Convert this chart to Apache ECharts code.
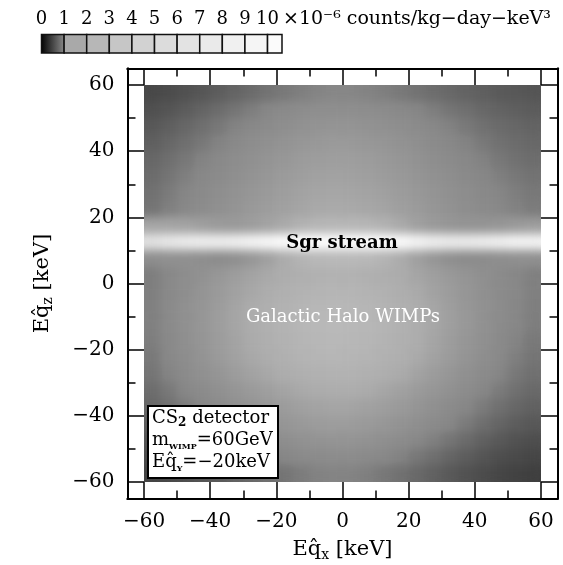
<!DOCTYPE html>
<html><head><meta charset="utf-8">
<script src="https://cdn.jsdelivr.net/npm/echarts@6/dist/echarts.min.js"></script>
<style>
html,body{margin:0;padding:0;background:#fff}
#wrap{position:relative;width:563px;height:565px}
#hm{position:absolute;left:144px;top:85px;width:397px;height:397px;overflow:hidden}
#hmc{width:397px;height:397px;filter:url(#sm)}
#c{position:absolute;left:0;top:0;width:563px;height:565px}
</style>
</head><body>
<svg width="0" height="0" style="position:absolute">
  <filter id="sm" x="0" y="0" width="100%" height="100%" color-interpolation-filters="sRGB">
    <feGaussianBlur stdDeviation="5"/>
    <feComponentTransfer><feFuncA type="linear" slope="0" intercept="1"/></feComponentTransfer>
  </filter>
</svg>
<div id="wrap"><div id="hm"><div id="hmc"></div></div><div id="c"></div></div>
<script>
// ---- data (values in 1e-6 counts/kg-day-keV^3), rows listed from top (Eq_z=57.5) to bottom ----
const xCenters = [-57.5,-52.5,-47.5,-42.5,-37.5,-32.5,-27.5,-22.5,-17.5,-12.5,-7.5,-2.5,2.5,7.5,12.5,17.5,22.5,27.5,32.5,37.5,42.5,47.5,52.5,57.5];
const yCenters = [-57.5,-52.5,-47.5,-42.5,-37.5,-32.5,-27.5,-22.5,-17.5,-12.5,-7.5,-2.5,2.5,7.5,12.5,17.5,22.5,27.5,32.5,37.5,42.5,47.5,52.5,57.5];
const row_p57 = [.53,.56,.60,.64,.69,.74,.79,.85,.90,.94,.98,1.0,.99,.97,.94,.90,.85,.81,.77,.73,.70,.67,.65,.63];
const row_p52 = [.59,.63,.68,.74,.80,.87,.93,1.0,1.07,1.13,1.18,1.2,1.19,1.16,1.11,1.05,.99,.93,.87,.82,.77,.73,.70,.68];
const row_p47 = [.65,.70,.76,.82,.89,.97,1.04,1.12,1.2,1.27,1.32,1.35,1.34,1.30,1.25,1.18,1.10,1.03,.96,.90,.84,.79,.76,.73];
const row_p42 = [.70,.76,.82,.89,.97,1.06,1.15,1.24,1.32,1.40,1.47,1.5,1.49,1.44,1.38,1.30,1.21,1.12,1.04,.97,.90,.84,.80,.77];
const row_p37 = [.76,.82,.89,.97,1.06,1.15,1.25,1.34,1.44,1.53,1.60,1.63,1.61,1.56,1.49,1.40,1.30,1.20,1.11,1.03,.96,.89,.84,.81];
const row_p32 = [.80,.87,.94,1.02,1.12,1.22,1.32,1.42,1.53,1.62,1.69,1.73,1.71,1.66,1.58,1.48,1.38,1.27,1.18,1.09,1.01,.94,.89,.85];
const row_p27 = [.84,.91,.99,1.08,1.18,1.29,1.40,1.51,1.62,1.72,1.80,1.84,1.82,1.76,1.68,1.57,1.46,1.35,1.24,1.15,1.06,.99,.93,.89];
const row_p22 = [.87,.95,1.03,1.13,1.24,1.36,1.48,1.59,1.71,1.82,1.91,1.95,1.93,1.87,1.78,1.66,1.54,1.41,1.30,1.20,1.11,1.02,.96,.92];
const row_p17 = [1.8,1.8,1.75,1.65,1.55,1.5,1.6,1.75,1.95,2.4,2.67,2.73,2.73,2.67,2.4,1.95,1.68,1.5,1.4,1.35,1.35,1.4,1.5,1.6];
const row_p12 = [6.2,7.0,7.5,7.8,7.8,8.0,8.6,9.2,9.7,10,10,10,10,10,10,9.6,8.6,7.8,7.4,7.4,7.6,8.0,8.6,8.6];
const row_p07 = [1.2,1.25,1.25,1.19,1.14,1.22,1.41,1.68,2.0,2.53,2.8,2.87,2.87,2.8,2.53,2.0,1.68,1.41,1.22,1.14,1.14,1.19,1.22,1.25];
const row_p02 = [.93,1.03,1.15,1.28,1.43,1.59,1.75,1.92,2.08,2.22,2.34,2.4,2.37,2.28,2.15,1.99,1.82,1.65,1.49,1.34,1.21,1.10,1.01,.95];
const row_m02 = [.94,1.06,1.19,1.34,1.50,1.69,1.87,2.05,2.24,2.40,2.53,2.6,2.57,2.47,2.32,2.14,1.94,1.74,1.56,1.40,1.25,1.12,1.02,.95];
const row_m07 = [.95,1.08,1.23,1.39,1.58,1.78,1.99,2.19,2.39,2.58,2.73,2.8,2.76,2.65,2.48,2.28,2.06,1.83,1.63,1.44,1.28,1.13,1.01,.94];
const row_m12 = [.95,1.08,1.24,1.41,1.60,1.81,2.03,2.24,2.45,2.64,2.79,2.87,2.83,2.72,2.54,2.33,2.09,1.86,1.65,1.45,1.28,1.12,1.01,.93];
const row_m17 = [.93,1.06,1.21,1.38,1.57,1.77,1.98,2.18,2.39,2.58,2.73,2.8,2.76,2.65,2.48,2.27,2.04,1.81,1.60,1.41,1.24,1.09,.98,.90];
const row_m22 = [.90,1.02,1.17,1.33,1.50,1.70,1.89,2.09,2.28,2.46,2.60,2.67,2.63,2.53,2.36,2.17,1.95,1.73,1.54,1.36,1.19,1.05,.94,.87];
const row_m27 = [.87,.98,1.10,1.24,1.39,1.56,1.73,1.90,2.06,2.22,2.34,2.4,2.37,2.27,2.13,1.96,1.77,1.58,1.41,1.25,1.11,.99,.89,.83];
const row_m32 = [.81,.90,1.0,1.11,1.24,1.38,1.52,1.65,1.79,1.92,2.02,2.07,2.04,1.97,1.85,1.71,1.55,1.40,1.26,1.13,1.01,.91,.83,.78];
const row_m37 = [.76,.83,.92,1.01,1.11,1.23,1.34,1.46,1.57,1.68,1.76,1.8,1.78,1.71,1.62,1.50,1.37,1.24,1.12,1.01,.91,.83,.76,.72];
const row_m42 = [.69,.75,.83,.91,1.0,1.10,1.20,1.30,1.40,1.49,1.56,1.6,1.58,1.52,1.44,1.33,1.22,1.11,1.0,.91,.82,.75,.69,.65];
const row_m47 = [.62,.67,.73,.80,.87,.95,1.03,1.11,1.19,1.26,1.32,1.35,1.34,1.29,1.22,1.13,1.04,.95,.87,.79,.72,.66,.61,.58];
const row_m52 = [.56,.60,.65,.70,.76,.82,.89,.95,1.01,1.07,1.12,1.14,1.13,1.09,1.04,.97,.89,.82,.75,.69,.63,.58,.55,.52];
const row_m57 = [.50,.53,.57,.62,.66,.72,.77,.82,.87,.92,.96,.98,.97,.94,.89,.84,.78,.72,.66,.61,.56,.52,.49,.47];
const rowsTopDown = [row_p57,row_p52,row_p47,row_p42,row_p37,row_p32,row_p27,row_p22,row_p17,row_p12,row_p07,row_p02,
  row_m02,row_m07,row_m12,row_m17,row_m22,row_m27,row_m32,row_m37,row_m42,row_m47,row_m52,row_m57];

const majorTicks = [-60,-40,-20,0,20,40,60];
const minorTicks = [-50,-30,-10,10,30,50];
const cbarLabels = [0,1,2,3,4,5,6,7,8,9,10];
const cbarEdges = [0,1,2,3,4,5,6,7,8,9,10,10.64];
const cbarColors = ['grad','#a9a9a9','#b7b7b7','#c6c6c6','#d2d2d2','#dcdcdc','#e3e3e3','#eaeaea','#f0f0f0','#f5f5f5','#fbfbfb'];
const mapGrays = ['#000000','#878787','#acacac','#bbbbbb','#c9c9c9','#d5d5d5','#dfdfdf','#e7e7e7','#efefef','#f5f5f5','#fdfdfd'];

// ---- build ----
const heatData = [];
rowsTopDown.forEach((row, r) => row.forEach((v, c) => heatData.push([c, rowsTopDown.length - 1 - r, v])));
const cbarData = cbarColors.map((col, i) => [cbarEdges[i], cbarEdges[i+1], i]);
const FF = 'DejaVu Serif';
const minus = v => String(v).replace('-', '\u2212');

// heatmap layer (smoothed)
const heat = echarts.init(document.getElementById('hmc'), null, {renderer:'canvas'});
heat.setOption({
  animation:false,
  grid:{left:0, top:0, right:0, bottom:0, outerBoundsMode:'none'},
  xAxis:{type:'category', data:xCenters, show:false},
  yAxis:{type:'category', data:yCenters, show:false},
  visualMap:{type:'continuous', show:false, min:0, max:10, inRange:{color:mapGrays}},
  series:[{type:'heatmap', data:heatData, emphasis:{disabled:true}, progressive:0}]
});

// frame, axes, colour bar and labels
function frameAxis(pos, ticks, len, labels, extra) {
  return Object.assign({
    type:'value', gridIndex:0, position:pos, min:-65, max:65,
    axisLine:{show:true, onZero:false, lineStyle:{color:'#000', width:2}},
    axisTick:{show:true, inside:true, length:len, customValues:ticks, lineStyle:{color:'#000', width:1.5}},
    axisLabel:{show:labels, customValues:majorTicks, formatter:minus, color:'#000', fontFamily:FF, fontSize:20, margin:13},
    splitLine:{show:false}
  }, extra || {});
}
const nameRich = {
  n:{fontFamily:FF, fontSize:21, color:'#000', lineHeight:26},
  s:{fontFamily:FF, fontSize:14, color:'#000', lineHeight:14, verticalAlign:'bottom'}
};
const option = {
  animation:false,
  backgroundColor:'transparent',
  grid:[
    {left:127.5, top:68.5, width:430, height:430, outerBoundsMode:'none'},
    {left:41.5, top:34.5, width:240.5, height:18.5, outerBoundsMode:'none'}
  ],
  xAxis:[
    frameAxis('bottom', majorTicks, 16.5, true, {name:'{n|Eq\u0302}{s|x}{n| [keV]}', nameLocation:'middle', nameGap:38, nameTextStyle:{rich:nameRich}}),
    frameAxis('bottom', minorTicks, 8, false),
    frameAxis('top', majorTicks, 16.5, false),
    frameAxis('top', minorTicks, 8, false),
    {type:'value', gridIndex:1, position:'top', min:0, max:10.64,
     axisLine:{show:false}, axisTick:{show:false}, splitLine:{show:false},
     axisLabel:{customValues:cbarLabels, color:'#000', fontFamily:FF, fontSize:18, margin:6}}
  ],
  yAxis:[
    frameAxis('left', majorTicks, 16.5, true, {name:'{n|Eq\u0302}{s|z}{n| [keV]}', nameLocation:'middle', nameGap:72, nameTextStyle:{rich:nameRich}}),
    frameAxis('left', minorTicks, 8, false),
    frameAxis('right', majorTicks, 16.5, false),
    frameAxis('right', minorTicks, 8, false),
    {type:'value', gridIndex:1, min:0, max:1, show:false}
  ],
  series:[
    {type:'custom', xAxisIndex:4, yAxisIndex:4, data:cbarData, silent:true,
     renderItem:function(params, api){
       const a = api.coord([api.value(0), 1]);
       const b = api.coord([api.value(1), 0]);
       const i = api.value(2);
       const fill = cbarColors[i] === 'grad'
         ? new echarts.graphic.LinearGradient(0,0,1,0,[{offset:0,color:'#000'},{offset:1,color:'#8c8c8c'}])
         : cbarColors[i];
       return {type:'rect', shape:{x:a[0], y:a[1], width:b[0]-a[0], height:b[1]-a[1]},
               style:{fill:fill, stroke:'#111', lineWidth:1.5}};
     }}
  ],
  graphic:[
    {type:'text', left:283, top:10, z:10, style:{text:'\u00d710\u207b\u2076 counts/kg\u2212day\u2212keV\u00b3', fontFamily:FF, fontSize:19, fill:'#000'}},
    {type:'text', x:342, y:243, z:10, style:{text:'Sgr stream', fontFamily:FF, fontSize:18, fontWeight:'bold', fill:'#000', align:'center', verticalAlign:'middle'}},
    {type:'text', x:343, y:317, z:10, style:{text:'Galactic Halo WIMPs', fontFamily:FF, fontSize:18, fill:'#fff', align:'center', verticalAlign:'middle'}},
    {type:'rect', z:10, shape:{x:148, y:406, width:130, height:72}, style:{fill:'#fff', stroke:'#000', lineWidth:2}},
    {type:'text', x:152, y:407, z:11, style:{
      text:'{a|CS}{b|2}{a| detector}\n{a|m}{c|WIMP}{a|=60GeV}\n{a|Eq\u0302}{c|Y}{a|=\u221220keV}',
      rich:{
        a:{fontFamily:FF, fontSize:18, lineHeight:22, fill:'#000'},
        b:{fontFamily:FF, fontSize:12, lineHeight:12, verticalAlign:'bottom', fill:'#000', fontWeight:'bold'},
        c:{fontFamily:FF, fontSize:8, lineHeight:9, verticalAlign:'bottom', fill:'#000', fontWeight:'bold'}
      }}}
  ]
};
const chart = echarts.init(document.getElementById('c'), null, {renderer:'canvas'});
chart.setOption(option);
</script></body></html>
